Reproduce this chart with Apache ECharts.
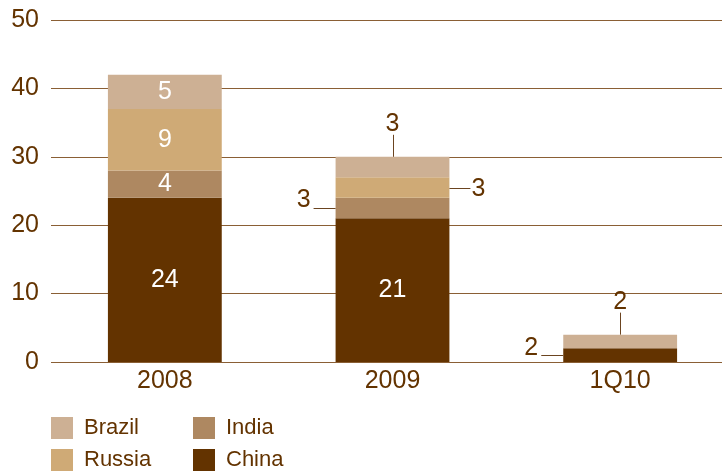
<!DOCTYPE html>
<html>
<head>
<meta charset="utf-8">
<script src="https://cdn.jsdelivr.net/npm/echarts@6/dist/echarts.min.js"></script>
<style>
  html, body { margin: 0; padding: 0; background: #ffffff; }
  #chart { width: 722px; height: 472px; }
</style>
</head>
<body>
<div id="chart"></div>
<script>
// Periods on the category axis
const categories = ['2008', '2009', '1Q10'];

// Values per country (stacked bottom to top: China, India, Russia, Brazil)
const china  = [24, 21, 2];
const india  = [4, 3, 0];
const russia = [9, 3, 0];
const brazil = [5, 3, 2];

// Value axis ticks
const yMin = 0, yMax = 50, yInterval = 10;

const FONT = '"Liberation Sans", Arial, Helvetica, sans-serif';
const TEXT = '#633300';

const seriesDefs = [
  { name: 'China',  values: china,  color: '#633300' },
  { name: 'India',  values: india,  color: '#AE8861' },
  { name: 'Russia', values: russia, color: '#CFAA76' },
  { name: 'Brazil', values: brazil, color: '#CDB094' }
];

// Segments too thin for an inside label get a leader-line callout instead.
// 0 = above the bar, 1 = to the left, 2 = to the right
const calloutSide = {
  India:  { 1: 1 },
  Russia: { 1: 2 },
  Brazil: { 1: 0, 2: 0 },
  China:  { 2: 1 }
};

const barSeries = seriesDefs.map(def => ({
  name: def.name,
  type: 'bar',
  stack: 'total',
  barWidth: '50%',
  itemStyle: { color: def.color },
  label: {
    position: 'inside',
    color: '#ffffff',
    fontSize: 25,
    fontFamily: FONT
  },
  emphasis: { disabled: true },
  data: def.values.map((v, i) => ({
    value: v,
    label: { show: v > 0 && !(calloutSide[def.name] && calloutSide[def.name][i] !== undefined) }
  }))
}));

// Callout records: [category, segment bottom, segment top, value, side]
const calloutData = [];
seriesDefs.forEach((def, k) => {
  def.values.forEach((v, i) => {
    const side = calloutSide[def.name] && calloutSide[def.name][i];
    if (side === undefined) return;
    let base = 0;
    for (let j = 0; j < k; j++) base += seriesDefs[j].values[i];
    calloutData.push([i, base, base + v, v, side]);
  });
});

const px = v => Math.round(v) + 0.5;

const calloutSeries = {
  type: 'custom',
  silent: true,
  z: 10,
  encode: { x: 0, y: 2 },
  data: calloutData,
  renderItem: function (params, api) {
    const i = api.value(0);
    const lo = api.value(1), hi = api.value(2);
    const val = api.value(3), side = api.value(4);
    const half = api.size([1, 0])[0] * 0.25;
    const cx = api.coord([i, 0])[0];
    const yLo = api.coord([i, lo])[1];
    const yHi = api.coord([i, hi])[1];
    const ym = (yLo + yHi) / 2;
    const lineStyle = { stroke: '#6b4420', lineWidth: 1 };
    const textBase = { text: String(val), fill: TEXT, fontSize: 25, fontFamily: FONT };
    let line, text;
    if (side === 0) {
      line = { x1: px(cx), y1: yHi - 22, x2: px(cx), y2: yHi };
      text = Object.assign({ x: cx, y: yHi - 20, align: 'center', verticalAlign: 'bottom' }, textBase);
    } else if (side === 1) {
      const x0 = cx - half;
      line = { x1: x0 - 22, y1: px(ym), x2: x0, y2: px(ym) };
      text = Object.assign({ x: x0 - 25, y: ym + 5, align: 'right', verticalAlign: 'bottom' }, textBase);
    } else {
      const x0 = cx + half;
      line = { x1: x0, y1: px(ym), x2: x0 + 21, y2: px(ym) };
      text = Object.assign({ x: x0 + 22, y: ym + 2, align: 'left', verticalAlign: 'middle' }, textBase);
    }
    return {
      type: 'group',
      children: [
        { type: 'line', shape: line, style: lineStyle },
        { type: 'text', style: text }
      ]
    };
  }
};

const legendBase = {
  orient: 'vertical',
  top: 417,
  padding: 0,
  itemWidth: 22,
  itemHeight: 22,
  itemGap: 10,
  icon: 'rect',
  selectedMode: false,
  textStyle: { color: TEXT, fontSize: 22, fontFamily: FONT, padding: [0, 0, 0, 6] }
};

const chart = echarts.init(document.getElementById('chart'), null, { renderer: 'canvas' });
chart.setOption({
  animation: false,
  backgroundColor: '#ffffff',
  grid: { left: 51, top: 20, width: 683, bottom: 110, containLabel: false, outerBoundsMode: 'none' },
  legend: [
    Object.assign({ left: 51, data: ['Brazil', 'Russia'] }, legendBase),
    Object.assign({ left: 193, data: ['India', 'China'] }, legendBase)
  ],
  xAxis: {
    type: 'category',
    data: categories,
    axisLine: { show: false },
    axisTick: { show: false },
    axisLabel: { color: TEXT, fontSize: 25, fontFamily: FONT, margin: 7 }
  },
  yAxis: {
    type: 'value',
    min: yMin,
    max: yMax,
    interval: yInterval,
    axisLine: { show: false },
    axisTick: { show: false },
    axisLabel: { color: TEXT, fontSize: 25, fontFamily: FONT, margin: 12, padding: [5, 0, 0, 0] },
    splitLine: { lineStyle: { color: '#8a5f35', width: 1 } }
  },
  series: barSeries.concat([calloutSeries])
});
</script>
</body>
</html>
